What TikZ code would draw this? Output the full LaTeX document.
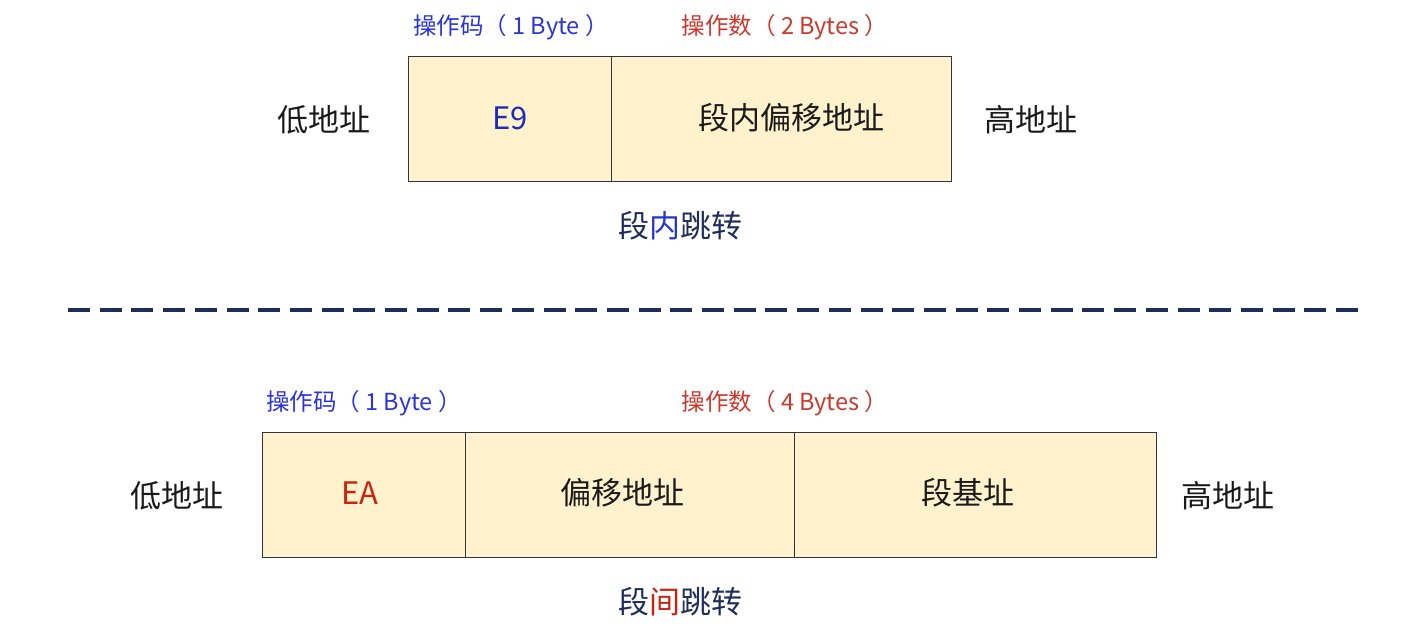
\documentclass[tikz,border=0pt]{standalone}
\usepackage{fontspec}
\setmainfont{Noto Sans CJK SC}
\definecolor{boxfill}{HTML}{FFF2CC}
\definecolor{boxline}{HTML}{2E3440}
\definecolor{lblblue}{HTML}{2B35D6}
\definecolor{lblred}{HTML}{C93A2E}
\definecolor{codeblue}{HTML}{1E2DB8}
\definecolor{codered}{HTML}{C8230F}
\definecolor{navy}{HTML}{1F2D5A}
\definecolor{midblue}{HTML}{2436CC}
\definecolor{txt}{HTML}{1A1A1A}
\begin{document}
\begin{tikzpicture}[x=1pt,y=-1pt,
  cell/.style={draw=boxline,line width=1.2pt,fill=boxfill,minimum height=125pt,inner sep=0pt,anchor=north west},
  bigtxt/.style={inner sep=0pt,font=\fontsize{31}{31}\selectfont,text=txt},
  lbl/.style={inner sep=0pt,font=\fontsize{23.5}{23.5}\selectfont},
  ttl/.style={inner sep=0pt,font=\fontsize{31}{31}\selectfont,text=navy}]
\useasboundingbox (0,0) rectangle (1414,625);
% top
\node[cell,minimum width=203pt] (a1) at (408,56) {};
\node[cell,minimum width=340pt] (a2) at (611,56) {};
\node[bigtxt,text=codeblue] (e9) at (510,118) {E9};
\node[bigtxt] (a2t) at (791,118) {段内偏移地址};
\node[bigtxt] (lo1) at (324,120) {低地址};
\node[bigtxt] (hi1) at (1031,120) {高地址};
\node[lbl,text=lblblue] (op1) at (511,27) {操作码（ 1 Byte ）};
\node[lbl,text=lblred] (od1) at (785,27) {操作数（ 2 Bytes ）};
\node[ttl] (t1) at (680,226) {段\textcolor{midblue}{内}跳转};
% separator
\coordinate (s1) at (68,310);
\coordinate (s2) at (1358,310);
\draw[navy,line width=3.2pt,dash pattern=on 22pt off 9.7pt] (s1) -- (s2);
% bottom
\node[cell,minimum width=203pt] (b1) at (262,432) {};
\node[cell,minimum width=329pt] (b2) at (465,432) {};
\node[cell,minimum width=362pt] (b3) at (794,432) {};
\node[bigtxt,text=codered] (ea) at (360,493) {EA};
\node[bigtxt] (b2t) at (622,493) {偏移地址};
\node[bigtxt] (b3t) at (968,493) {段基址};
\node[bigtxt] (lo2) at (177,496) {低地址};
\node[bigtxt] (hi2) at (1228,496) {高地址};
\node[lbl,text=lblblue] (op2) at (364,403) {操作码（ 1 Byte ）};
\node[lbl,text=lblred] (od2) at (785,403) {操作数（ 4 Bytes ）};
\node[ttl] (t2) at (680,602) {段\textcolor{codered}{间}跳转};
\end{tikzpicture}
\end{document}
